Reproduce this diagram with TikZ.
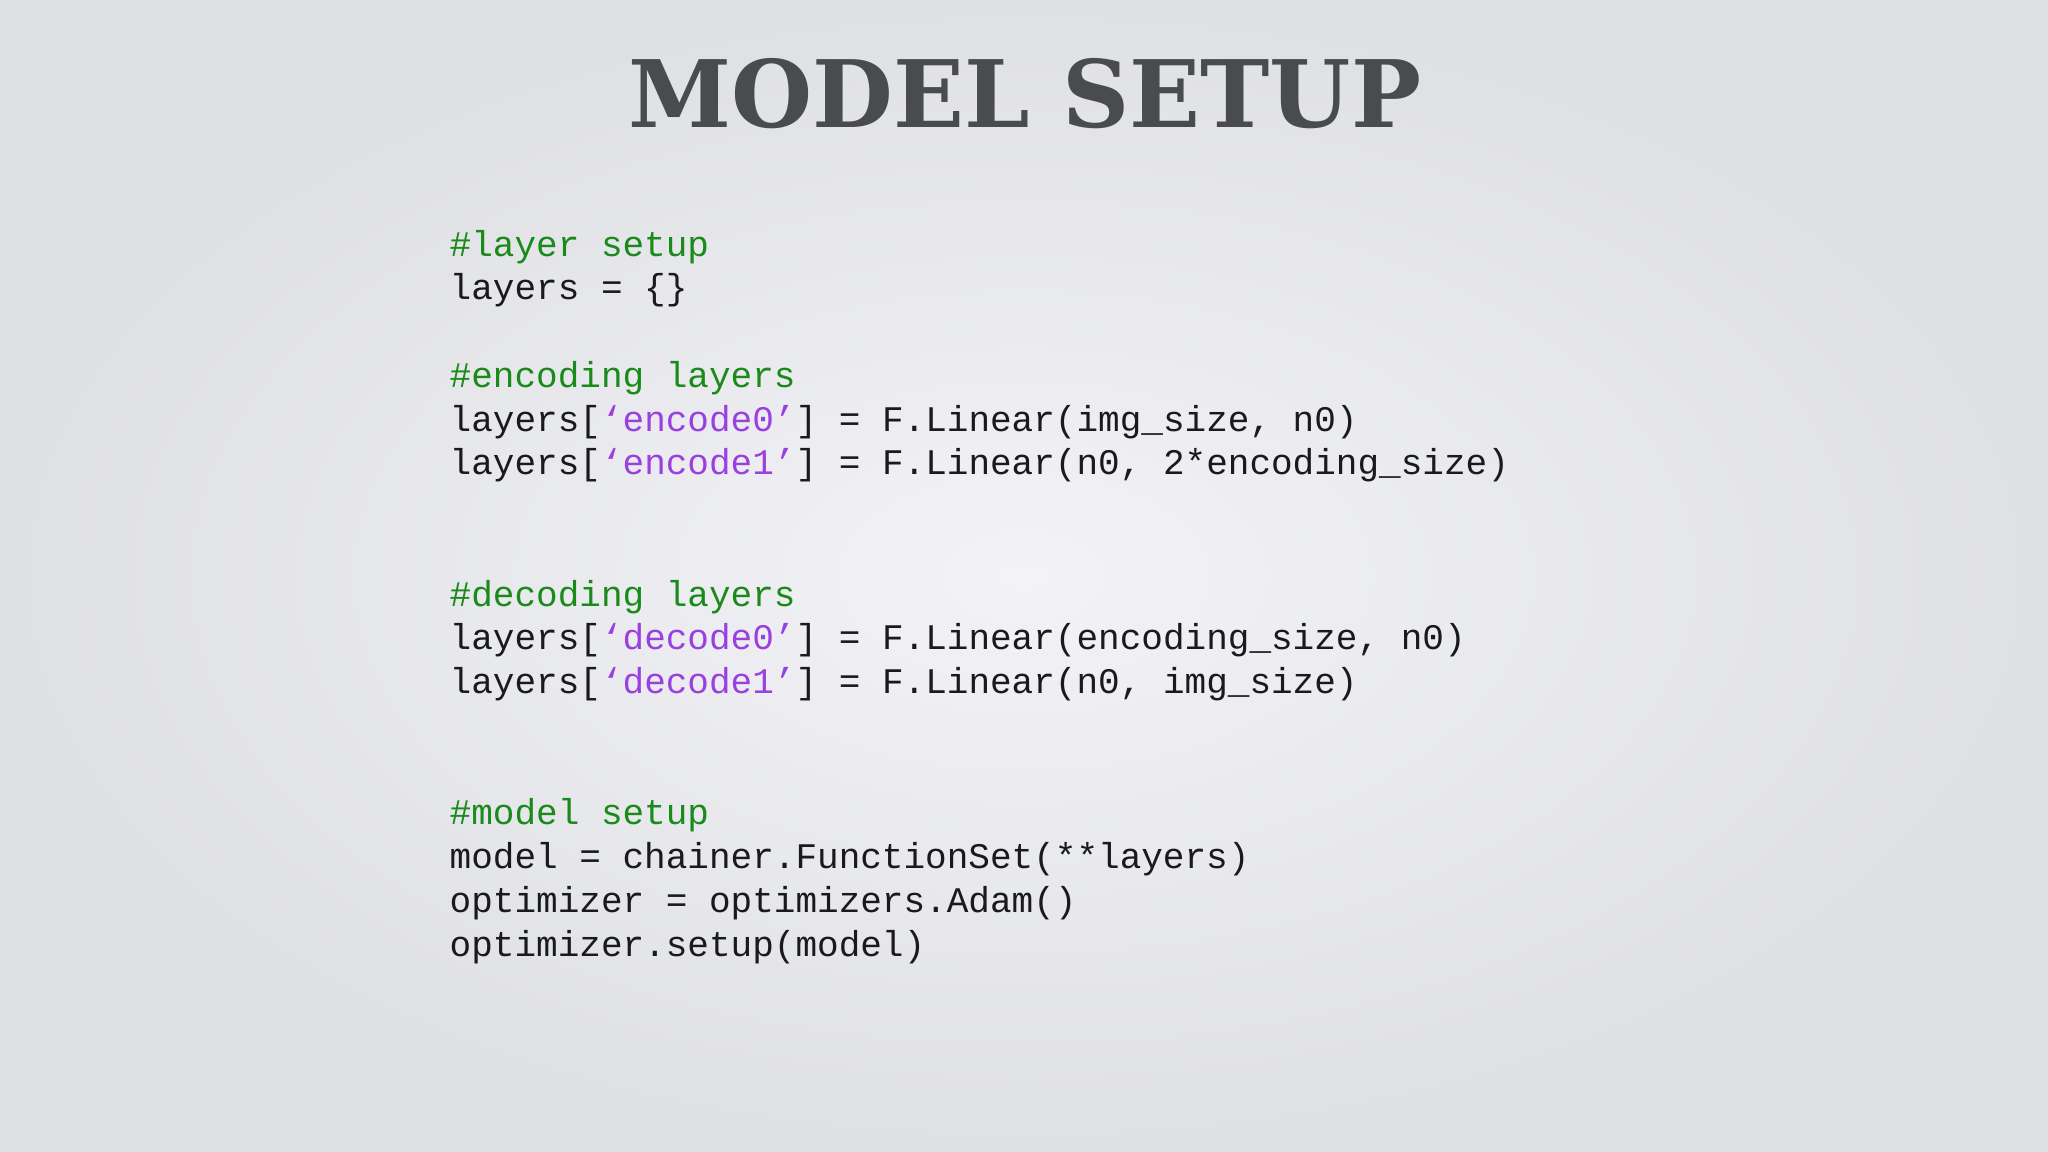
\documentclass[tikz,border=0pt]{standalone}
\usepackage{fontspec}
\setmonofont{Liberation Mono}
\newfontfamily\titlefont{DejaVu Serif}
\definecolor{titlegray}{HTML}{4A4B4E}
\definecolor{cmtgreen}{HTML}{1A8A1A}
\definecolor{strpurple}{HTML}{9A3FE0}
\definecolor{codeblack}{HTML}{1A1A1A}
\definecolor{bginner}{HTML}{F3F3F7}
\definecolor{bgouter}{HTML}{DFE0E4}
\tikzset{
  codeline/.style={anchor=west, inner sep=0pt, font=\ttfamily\fontsize{10.25}{12}\selectfont, text=codeblack},
}
\newcommand{\cmt}[1]{\textcolor{cmtgreen}{#1}}
\newcommand{\str}[1]{\textcolor{strpurple}{#1}}
\begin{document}
\begin{tikzpicture}
  % background
  \shade[inner color=bginner, outer color=bgouter] (0,0) rectangle (20.48,11.52);
  \useasboundingbox (0,0) rectangle (20.48,11.52);

  % title
  \node[text=titlegray, font=\titlefont\bfseries\fontsize{26.5}{30}\selectfont] (title) at (10.25,10.58) {MODEL SETUP};

  % code lines
  \foreach \k/\txt [count=\i] in {
      0/{\cmt{\#layer setup}},
      1/{layers = \{\}},
      3/{\cmt{\#encoding layers}},
      4/{layers[\str{‘encode0’}] = F.Linear(img\_size, n0)},
      5/{layers[\str{‘encode1’}] = F.Linear(n0, 2*encoding\_size)},
      8/{\cmt{\#decoding layers}},
      9/{layers[\str{‘decode0’}] = F.Linear(encoding\_size, n0)},
      10/{layers[\str{‘decode1’}] = F.Linear(n0, img\_size)},
      13/{\cmt{\#model setup}},
      14/{model = chainer.FunctionSet(**layers)},
      15/{optimizer = optimizers.Adam()},
      16/{optimizer.setup(model)}}
  {
    \node[codeline] (line\i) at (4.49, {11.52-(189+33.5*\k)*0.01306}) {\txt};
  }
\end{tikzpicture}
\end{document}
